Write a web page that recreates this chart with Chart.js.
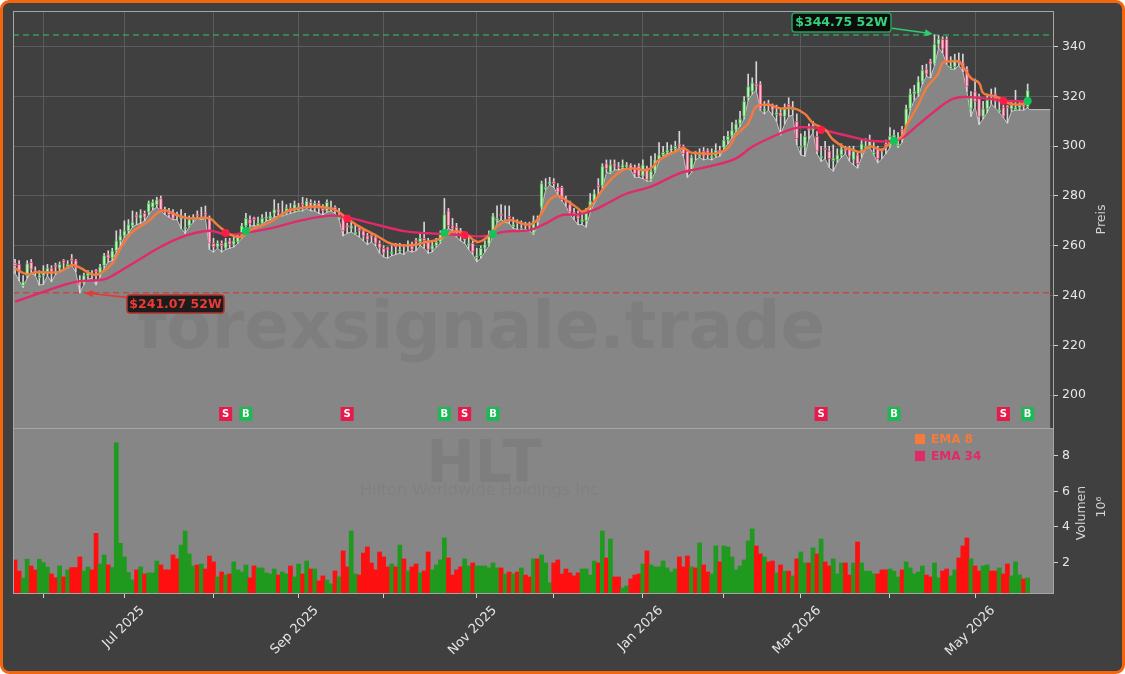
<!DOCTYPE html>
<html>
<head>
<meta charset="utf-8">
<script src="https://cdn.jsdelivr.net/npm/chart.js@4.4.1/dist/chart.umd.min.js"></script>
<style>
  html, body { margin: 0; padding: 0; background: #ffffff; }
  #frame { position: absolute; left: 0; top: 0; width: 1125px; height: 674px; box-sizing: border-box;
           border: 3px solid #f2660f; border-radius: 9px; background: #404040; }
  #priceWrap { position: absolute; left: 0; top: 0; width: 1125px; height: 428px; }
  #volWrap { position: absolute; left: 0; top: 420px; width: 1125px; height: 254px; }
</style>
</head>
<body>
<div id="frame"></div>
<div id="priceWrap"><canvas id="priceChart"></canvas></div>
<div id="volWrap"><canvas id="volChart"></canvas></div>
<script>
// month ticks (trading-day index of first session of each month)
const monthTickIdx = [7, 27, 49, 70, 91, 114, 133, 155, 175, 194, 216, 237];
const monthTickLabel = ['', 'Jul 2025', '', 'Sep 2025', '', 'Nov 2025', '', 'Jan 2026', '', 'Mar 2026', '', 'May 2026'];

const priceTicks = [200, 220, 240, 260, 280, 300, 320, 340];
const volTicks = [2, 4, 6, 8];

// daily candles (HLT)
const open = [
253,252.5,244,248,253.3,250,247.2,248,249.5,251,
252.3,251,254.1,251.7,254.8,254,246,245,248,249,
250.3,248.5,252,256.5,255,258,262,264,266,268,
272.3,271,273,273.5,275.5,276.5,279,274.5,273.5,273.5,
272.8,270.7,266.7,268,270.5,272.8,270.7,273.3,271,261,
259.5,261,259,262,260.5,261.5,264,268,270.5,271.3,
268.2,269,271,271,273,274.5,272.2,273,275,274,
274.2,277.3,275.5,277.5,275,277,275,274,274.7,275.5,
270.7,271.5,268.3,267,264.7,266.8,266,264,264.3,263.5,
261,259,259.3,256.7,260.3,257.7,260.3,259.5,260,262.3,
261.5,263,262,258.5,260,261.5,265,274,268,267.5,
265,262.2,260.2,261,255.2,256,259,260.5,264.5,270.2,
272.8,269.7,271.8,267.7,269.8,266.2,268.8,268,265,270,
275.5,282.7,285,285.8,283.5,283.5,278.5,276.5,273.5,272,
269.7,270,274,278,284.3,284,293,289.5,293,292,
291.5,291.7,292.5,291,292,288,291,286.5,290,294.5,
296.5,297.5,298.5,299,301,300,298,290,297.8,295.7,
298,298.3,295.2,296,298.5,299.5,302.5,304,306.5,309,
312,319.5,322,325,325,314.2,317.3,316.5,312.7,313.5,
312,316.8,314.7,310,299.2,300,307.3,306.5,304,295.2,
299.3,298,294.2,294.5,296.5,299,299,294.5,296.5,298.5,
299.2,300,296.7,299,298.8,300.8,300,303.5,300.2,306.8,
308,315,321,321,326,331,334.2,333,341,343,
343,331.2,332,334.5,333.5,331,315,322,320,312,
315,320.8,321,313.7,315.5,316.3,315,314.7,315.5,316.5,
316];
const high = [
254.5,254,248,254,254.5,251.5,250,252,252.5,252,
253,253.5,254.5,254,256.5,254.5,248,249,250,250,
250.5,252.5,257,258,259,266,266.5,270,270.5,274,
273.5,274.5,274,278,278.5,279.5,280,275.5,275,274.5,
273.5,274.5,273,272,272.5,274,275.5,276,272,263,
262,262,263,263,263.5,265,269,273,272,271.5,
271.5,272.5,273.5,273.5,278.5,277,278,276.5,277,278,
277,279.5,279,278.5,278,278,276.5,278.5,278,276,
275,272,269,270,268.5,268,266.5,265,264.5,264,
262,260,259.5,260,261,261,260.5,262,261.5,263,
265,269.5,263,262,263,266,279,275,271,269,
267,265.5,264,262,259,260,262,266,273,276,
276.5,276,276,271.5,270.5,270,269.5,269.5,272,272,
286,287,287.5,287,285,284,280,278,275,274,
273,275,281,282.5,287,293,294.5,294.5,294.5,293.5,
294.5,293.5,293,292.5,293,294.5,292,296,297,301.5,
300,301.5,300.5,302,306,300.5,298.5,296.5,298,299,
299.5,299,299,301,300,304,306,309.5,310.5,314,
320,329,327.5,334,326,318,318.5,317,316.5,315,
317,319.5,318,313,305,306,309,310,306,300,
302,300,300.5,299,301,300,300,300,297.5,302.5,
303,304.5,301.5,300,299,302.5,307.5,306.5,305.5,308,
316.5,323,324.5,328,332.5,333,335,344.75,344.5,344,
344,336,337,337.5,337,332,322,327,321,318,
321,323,323.5,319,316.5,316.5,318,322.5,318,318,
325];
const low = [
249,246,243.3,247,249,248,244.2,244.5,248,245.5,
248.5,250,250.5,251,252,249.5,241.07,244.5,246.5,247,
244.3,247.5,251,253.5,254,257.5,260,263.5,265,267.5,
268.5,269,270,272.5,274.5,275.5,274,272.5,271.5,270.5,
270.5,267,265,267.5,269.5,271,270.5,271,258.5,257.5,
259,257.5,258.5,259,259.5,261,263,264.5,268,268,
268,268.5,270,270.5,271.5,272,272,272.5,273,273.5,
274,274,275,274,274,273,272.5,273.5,274,273,
270.5,264,265,265.5,264.5,263.5,262,260.5,261.5,260,
257,255.5,255,256,256.5,257,256.5,258,257.5,258,
260,259,257,257.5,259.5,261,265,267,266,263.5,
262,261,258.5,256.5,253.6,255,257.5,260,264,269.5,
270.5,269.5,269,267,266.5,266,266.5,266,264.5,268,
275,282.5,284.5,283.5,280.5,278,276,272.5,270.5,268.5,
268.5,267.5,273.5,277,280,283,289.5,289,290.5,290.5,
291,291,290.5,287.5,287.5,287,286,286,289.5,294,
296,297,297.5,298,299.5,296,287.5,289.5,294.5,295.5,
294.5,295,294.5,295.5,296,299,301,303.5,306,308,
311,318.5,321,322.5,314.5,313,314.5,312.5,310,304.5,
309,312,312.5,300.6,296.5,296,303,305.5,297,293.9,
295,291.5,290,293.5,295.5,297,294,292.5,291.2,295.5,
299,299.5,296.5,293.3,295,297,299.5,303,299.5,301.5,
307.5,314.5,318.5,320,325,328,327.5,332.5,339.5,337.5,
333,331,331,332.5,330,322,312,316,308.7,311,
313.5,317,315.5,313.5,311.5,309.3,314,314.5,314.5,314.5,
315.5];
const close = [
252,249.5,245.5,252.8,250.5,249.2,248,249.5,251,249.5,
251.5,252.5,253.3,252.5,254,251,244.5,248,249,248.5,
249.5,251.5,256,255,258,262,264,266,268.5,269.5,
271.5,272.5,271.5,277,277.5,278.5,274.5,273.5,272.5,271,
272,271.5,267.5,270.5,271.5,272,271.5,272.5,261,259.5,
261,260,261.5,260.5,262,263.5,268,271,269,270.5,
269,271,271.5,272,274.5,273.5,273,275,274,276.5,
275,276.5,278,275,277,275,274,277.5,275.5,274,
271.5,266,267.5,268,265.5,266,264,262.5,263.5,261,
259,257,258.5,257.5,259.5,258.5,259.5,260,258.5,261.5,
263,262,258.5,260,261.5,264.5,272.5,268,267,265,
264,263,261,257.5,256,259,260.5,264,272,271,
272,270.5,271,268.5,269,267,268,267.5,270,269.5,
285,283.5,285.5,285,281.5,278.5,277.5,273.5,272,271,
270.5,274,278,281,283.5,292,291,292.5,292,291.5,
292.5,292.5,291,289,288,292.5,286.5,290,294.5,296.5,
297.5,298.5,299,300,300,297,289.5,295.5,297,296.5,
296,297.5,296,298.5,297.5,302.5,304,306.5,309,311,
318,324,325.5,324,315,315,316.5,314.5,313.5,312,
315,316,315.5,303,300,304,306.5,308,298,296,
298.5,295,295,296.5,299,298,296,298,293,301,
300,302,297.5,295,298,300,304,304.5,301,306,
315,321,322,326,330.5,329,333,341,343,339,
334,332,334.5,333.5,331,324,320,318,312,315,
318.5,320,318,314.5,312,315.5,316.5,315.5,316.5,316,
322.5];
// volume in millions
const volume = [
2.13,1.5,1.1,2.17,1.79,1.56,2.17,1.98,1.72,1.34,
1.13,1.79,1.17,1.57,1.7,1.7,2.3,1.5,1.73,1.57,
3.63,1.9,2.41,1.85,1.7,8.74,3.07,2.3,1.42,1.0,
1.57,1.74,1.34,1.4,1.4,2.07,1.85,1.57,1.57,2.41,
2.19,2.97,3.76,2.47,1.79,1.85,1.9,1.62,2.35,2.02,
1.17,1.45,1.28,1.34,2.02,1.57,1.45,1.85,1.12,1.79,
1.68,1.68,1.4,1.34,1.62,1.28,1.45,1.34,1.79,1.17,
1.9,1.34,2.07,1.62,1.62,0.95,1.23,1.0,0.78,1.51,
1.17,2.64,1.74,3.76,1.34,1.28,2.52,2.86,1.96,1.57,
2.58,2.3,1.74,1.9,1.74,2.97,2.19,1.51,1.74,1.9,
1.4,1.51,2.58,1.57,1.85,2.13,3.37,2.24,1.28,1.57,
1.74,2.19,1.79,1.96,1.79,1.79,1.79,1.68,1.96,1.68,
1.68,1.34,1.45,1.34,1.45,1.68,1.28,1.17,2.19,2.19,
2.41,1.96,0.84,1.96,2.13,1.34,1.62,1.4,1.23,1.4,
1.62,1.62,1.28,2.07,1.96,3.76,2.24,3.31,1.17,1.17,
0.55,0.66,1.06,1.28,1.34,1.9,2.64,1.85,1.74,1.74,
2.07,1.68,1.45,1.62,2.3,1.74,2.35,1.74,1.68,3.09,
1.85,1.45,1.34,2.92,2.02,2.92,2.86,2.3,1.57,1.79,
2.13,3.2,3.88,2.92,2.47,2.3,2.02,2.07,1.4,1.85,
1.5,1.5,1.23,2.19,2.58,1.96,1.96,2.81,2.47,3.31,
2.02,1.79,2.19,1.34,1.96,1.96,1.28,1.96,3.14,1.96,
1.5,1.5,1.34,1.34,1.57,1.57,1.62,1.5,1.17,1.57,
2.02,1.68,1.34,1.45,1.79,1.28,1.17,1.96,1.12,1.51,
1.62,1.23,1.57,2.24,2.92,3.37,2.19,1.79,1.51,1.79,
1.85,1.51,1.51,1.68,1.34,1.9,1.23,2.02,1.28,1.06,
1.12];

// moving averages: [bar index, value]
const ema8 = [
[0,250.9],[3,248.5],[5,249.3],[11,249.5],[14,252.2],[16,251.2],[19,248.5],[21,248.9],[24,252.9],[26,258.9],
[29,265.6],[33,269.9],[35,273],[37,274.3],[40,272.3],[43,271],[48,271],[50,268.3],[53,264.6],[56,263.6],
[58,266.3],[63,269.5],[67,273.7],[71,275.3],[75,275.7],[79,274.4],[82,271],[85,267.7],[89,264.3],[93,260.7],
[98,260.3],[102,261.6],[104,262.3],[106,263.6],[108,265.7],[111,265],[114,261.6],[116,262.7],[119,267.7],[122,270.3],
[126,268.6],[128,269],[130,273],[132,278.4],[134,280.1],[136,278.4],[139,275],[140,273.7],[142,275.7],[145,282.4],
[147,286.4],[150,290.4],[153,291.1],[155,290.4],[157,291.1],[159,294.5],[163,297.8],[165,299.2],[167,297.4],[170,297.1],
[173,297.1],[176,299.2],[178,304.5],[181,309.2],[183,315.9],[186,316.6],[189,315.2],[192,315.4],[195,313],[197,309.3],
[200,306.7],[202,302.6],[205,299.3],[206,299],[209,297.7],[211,300],[214,298.6],[216,301.3],[219,304],[220,308],
[223,316.7],[225,323.4],[228,329.4],[229,333.5],[231,334.1],[233,334.1],[234,332.1],[236,327.4],[238,325.4],[239,321.4],
[241,320.3],[243,319.4],[245,317.4],[247,316.7],[249,317],[250,317.6]
];
const ema34 = [
[0,237.5],[7,241.5],[15,245.5],[22,246.5],[25,248.9],[30,253.8],[36,259.6],[42,264],[48,266],[52,264.6],
[56,265],[63,267],[71,270.3],[78,272.1],[82,271.4],[88,269],[96,265.9],[102,265],[107,264.6],[112,264],
[116,263.9],[121,265.7],[127,266.3],[131,269],[135,272.3],[139,272.6],[143,274.4],[147,277.7],[151,281],[157,283.8],
[164,289.1],[168,290.7],[173,292.5],[178,295.1],[182,299.8],[187,303.8],[191,306.5],[194,307.6],[198,307.3],[201,306],
[206,304],[211,302.2],[216,302],[219,303.3],[223,308.7],[227,314],[231,318.7],[234,319.8],[238,319.4],[241,319],
[244,318.3],[250,318]
];

// EMA crossover signals
const sellIdx = [52, 82, 111, 199, 244];
const sellLevel = [265.1, 271.0, 264.3, 306.5, 318.2];
const buyIdx = [57, 106, 118, 217, 250];
const buyLevel = [265.9, 265.1, 264.7, 302.1, 318.2];

// 52-week extremes
const high52 = 344.75, high52Idx = 227;
const low52 = 241.07, low52Idx = 16;

// shaded band after the last session
const tailLevel = 314.7, tailEnd = 255.6;

const xMin = -0.5, xMax = 256.5;
const priceMin = 186.75, priceMax = 354.35;
const volMin = 0.21, volMax = 9.57;

const FONT = '"DejaVu Sans", "Noto Sans", sans-serif';
Chart.defaults.font.family = FONT;

const idx = close.map((_, i) => i);
const isUp = i => close[i] >= open[i];

// shaded band under the lows, from the left edge to the end band
const areaData = [{ x: xMin, y: low[0] }].concat(idx.map(i => ({ x: i, y: low[i] })));
areaData.push({ x: idx.length - 0.5, y: tailLevel }, { x: tailEnd, y: tailLevel });

function arrow(ctx, x0, y0, x1, y1, color) {
  const ang = Math.atan2(y1 - y0, x1 - x0), hl = 8, hw = 3.5;
  const c = Math.cos(ang), s = Math.sin(ang);
  ctx.strokeStyle = color; ctx.fillStyle = color; ctx.lineWidth = 1.6; ctx.setLineDash([]);
  ctx.beginPath(); ctx.moveTo(x0, y0); ctx.lineTo(x1 - hl * c, y1 - hl * s); ctx.stroke();
  ctx.beginPath(); ctx.moveTo(x1, y1);
  ctx.lineTo(x1 - hl * c + hw * s, y1 - hl * s - hw * c);
  ctx.lineTo(x1 - hl * c - hw * s, y1 - hl * s + hw * c);
  ctx.closePath(); ctx.fill();
}

function labelBox(ctx, text, cx, cy, w, h, fill, stroke, color) {
  ctx.beginPath(); ctx.roundRect(cx - w / 2, cy - h / 2, w, h, 3);
  ctx.fillStyle = fill; ctx.fill();
  ctx.lineWidth = 1.5; ctx.strokeStyle = stroke; ctx.stroke();
  ctx.fillStyle = color; ctx.font = 'bold 12.5px ' + FONT;
  ctx.textAlign = 'center'; ctx.textBaseline = 'middle';
  ctx.fillText(text, cx, cy + 0.5);
}

function vText(ctx, text, x, y, font, color) {
  ctx.save(); ctx.translate(x, y); ctx.rotate(-Math.PI / 2);
  ctx.font = font; ctx.fillStyle = color; ctx.textAlign = 'center'; ctx.textBaseline = 'middle';
  ctx.fillText(text, 0, 0); ctx.restore();
}

const pricePanel = {
  id: 'pricePanel',
  beforeDraw(chart) {
    const { ctx, chartArea: a } = chart;
    ctx.save(); ctx.fillStyle = '#404040'; ctx.fillRect(a.left, a.top, a.width, a.height); ctx.restore();
  },
  afterDatasetDraw(chart, args) {
    if (args.index !== 0) return;
    const { ctx, chartArea: a, scales: { y } } = chart;
    ctx.save();
    ctx.beginPath(); ctx.rect(a.left, a.top, a.width, a.height); ctx.clip();
    ctx.font = 'bold 66px ' + FONT; ctx.fillStyle = 'rgba(0,0,0,0.055)';
    ctx.textAlign = 'center'; ctx.textBaseline = 'alphabetic';
    ctx.fillText('forexsignale.trade', a.left + a.width * 0.45, a.top + a.height * 0.808);
    ctx.lineWidth = 1.5; ctx.setLineDash([6, 4]);
    const hy = y.getPixelForValue(high52), ly = y.getPixelForValue(low52);
    ctx.strokeStyle = 'rgba(52,168,96,0.85)';
    ctx.beginPath(); ctx.moveTo(a.left, hy); ctx.lineTo(a.right, hy); ctx.stroke();
    ctx.strokeStyle = 'rgba(205,60,58,0.8)';
    ctx.beginPath(); ctx.moveTo(a.left, ly); ctx.lineTo(a.right, ly); ctx.stroke();
    ctx.restore();
  },
  afterDraw(chart) {
    const { ctx, chartArea: a, scales: { x, y } } = chart;
    ctx.save();
    // signal markers
    const my = a.bottom - 14;
    const mark = (i, t, col) => {
      const px = x.getPixelForValue(i);
      ctx.fillStyle = col; ctx.fillRect(px - 6.5, my - 7, 13, 14);
      ctx.fillStyle = '#ffffff'; ctx.font = 'bold 10px ' + FONT;
      ctx.textAlign = 'center'; ctx.textBaseline = 'middle';
      ctx.fillText(t, px, my + 0.5);
    };
    sellIdx.forEach(i => mark(i, 'S', '#e8194b'));
    buyIdx.forEach(i => mark(i, 'B', '#1db954'));
    // 52W annotations
    let px = x.getPixelForValue(high52Idx), py = y.getPixelForValue(high52);
    arrow(ctx, px - 42.5, py - 6.6, px - 1.6, py - 1, '#2fcc6e');
    labelBox(ctx, '$' + high52.toFixed(2) + ' 52W', px - 93, py - 12.4, 99, 19, '#0c0c0c', '#2a9d5a', '#35d27c');
    px = x.getPixelForValue(low52Idx); py = y.getPixelForValue(low52);
    arrow(ctx, px + 47, py + 4.5, px + 5, py, '#e53935');
    labelBox(ctx, '$' + low52.toFixed(2) + ' 52W', px + 95.7, py + 11.2, 97, 18, '#1c1c1c', '#b3302c', '#ec3a35');
    // frame
    ctx.strokeStyle = '#a6a6a6'; ctx.lineWidth = 1;
    ctx.strokeRect(a.left + 0.5, a.top + 0.5, a.width - 1, a.height);
    // axis title
    vText(ctx, 'Preis', a.right + 48, (a.top + a.bottom) / 2, '12.5px ' + FONT, '#d4d4d4');
    ctx.restore();
  }
};

const volPanel = {
  id: 'volPanel',
  beforeDraw(chart) {
    const { ctx, chartArea: a } = chart;
    ctx.save(); ctx.fillStyle = '#868686'; ctx.fillRect(a.left, a.top, a.width, a.height); ctx.restore();
  },
  beforeDatasetsDraw(chart) {
    const { ctx, chartArea: a } = chart;
    ctx.save();
    ctx.textAlign = 'center'; ctx.textBaseline = 'alphabetic';
    ctx.fillStyle = 'rgba(0,0,0,0.055)';
    ctx.font = 'bold 58px ' + FONT;
    ctx.fillText('HLT', a.left + a.width * 0.4525, a.top + 54);
    ctx.font = '16px ' + FONT; ctx.fillStyle = 'rgba(0,0,0,0.045)';
    ctx.fillText('Hilton Worldwide Holdings Inc', a.left + a.width * 0.448, a.top + 67);
    ctx.restore();
  },
  afterDraw(chart) {
    const { ctx, chartArea: a } = chart;
    ctx.save();
    ctx.strokeStyle = '#a6a6a6'; ctx.lineWidth = 1;
    ctx.strokeRect(a.left + 0.5, a.top + 0.5, a.width - 1, a.height - 1);
    // legend
    const lx = a.right - 139;
    const items = [['EMA 8', '#f47b3c'], ['EMA 34', '#e2296a']];
    items.forEach(([t, c], k) => {
      const ty = a.top + 6 + k * 17;
      ctx.fillStyle = c; ctx.fillRect(lx, ty, 10, 10);
      ctx.font = 'bold 12px ' + FONT; ctx.textAlign = 'left'; ctx.textBaseline = 'middle';
      ctx.fillText(t, lx + 16, ty + 5.5);
    });
    vText(ctx, 'Volumen', a.right + 28, (a.top + a.bottom) / 2 + 2, '12.5px ' + FONT, '#d4d4d4');
    vText(ctx, '10\u2076', a.right + 48, (a.top + a.bottom) / 2 - 4, '12.5px ' + FONT, '#d4d4d4');
    ctx.restore();
  }
};

const monthTicks = s => { s.ticks = monthTickIdx.map(v => ({ value: v })); };

const priceChart = new Chart(document.getElementById('priceChart'), {
  type: 'bar',
  data: {
    datasets: [
      { type: 'line', data: areaData, fill: 'start', backgroundColor: '#868686', borderColor: '#c4c4c4',
        borderWidth: 1, pointRadius: 0, tension: 0, order: 7 },
      { type: 'bar', data: idx.map(i => ({ x: i, y: [low[i], high[i]] })), backgroundColor: '#d6d6d6',
        barThickness: 1, grouped: false, order: 6 },
      { type: 'bar', data: idx.map(i => ({ x: i, y: [open[i], close[i]] })),
        backgroundColor: idx.map(i => isUp(i) ? '#c4f1c4' : '#ffbfd2'),
        borderColor: idx.map(i => isUp(i) ? '#4fbf56' : '#e2527c'),
        borderWidth: 1, borderSkipped: false, barThickness: 3, minBarLength: 1, grouped: false, order: 5 },
      { type: 'line', data: ema34.map(([x, y]) => ({ x, y })), borderColor: '#e2296a', borderWidth: 2.4,
        pointRadius: 0, tension: 0.4, fill: false, order: 4 },
      { type: 'line', data: ema8.map(([x, y]) => ({ x, y })), borderColor: '#f47b3c', borderWidth: 2.4,
        pointRadius: 0, tension: 0.4, fill: false, order: 3 },
      { type: 'line', data: sellIdx.map((x, k) => ({ x, y: sellLevel[k] })), showLine: false,
        pointRadius: 4, pointBackgroundColor: '#ff1a48', pointBorderWidth: 0, order: 2 },
      { type: 'line', data: buyIdx.map((x, k) => ({ x, y: buyLevel[k] })), showLine: false,
        pointRadius: 4, pointBackgroundColor: '#14c45a', pointBorderWidth: 0, order: 1 }
    ]
  },
  options: {
    responsive: true, maintainAspectRatio: false, animation: false,
    layout: { autoPadding: false, padding: { left: 13, top: 11, right: 0, bottom: 0 } },
    plugins: { legend: { display: false }, tooltip: { enabled: false } },
    scales: {
      x: {
        type: 'linear', min: xMin, max: xMax, offset: false,
        afterBuildTicks: monthTicks,
        ticks: { display: false },
        grid: { color: '#5c5c5c', drawTicks: false, offset: false },
        border: { display: false },
        afterFit: s => { s.height = 0; s.paddingLeft = 0; s.paddingRight = 0; }
      },
      y: {
        position: 'right', min: priceMin, max: priceMax,
        afterBuildTicks: s => { s.ticks = priceTicks.map(v => ({ value: v })); },
        ticks: { color: '#e6e6e6', font: { size: 12.5 }, padding: 4 },
        grid: { color: '#5c5c5c', tickColor: '#d0d0d0', tickLength: 4 },
        border: { display: false },
        afterFit: s => { s.width = 71; s.paddingTop = 0; s.paddingBottom = 0; }
      }
    }
  },
  plugins: [pricePanel]
});

const volChart = new Chart(document.getElementById('volChart'), {
  type: 'bar',
  data: {
    datasets: [{
      data: idx.map(i => ({ x: i, y: volume[i] })),
      backgroundColor: idx.map(i => isUp(i) ? '#1f9a1f' : '#ff1010'),
      barPercentage: 1, categoryPercentage: 1, borderWidth: 0
    }]
  },
  options: {
    responsive: true, maintainAspectRatio: false, animation: false,
    layout: { autoPadding: false, padding: { left: 13, top: 8, right: 0, bottom: 0 } },
    plugins: { legend: { display: false }, tooltip: { enabled: false } },
    scales: {
      x: {
        type: 'linear', min: xMin, max: xMax, offset: false,
        afterBuildTicks: monthTicks,
        ticks: {
          autoSkip: false, maxRotation: 45, minRotation: 45, color: '#e6e6e6',
          font: { size: 13 }, padding: 5, labelOffset: 18,
          callback: v => { const k = monthTickIdx.indexOf(v); return k >= 0 ? monthTickLabel[k] : ''; }
        },
        grid: { drawOnChartArea: false, tickColor: '#d0d0d0', tickLength: 4, offset: false },
        border: { display: false },
        afterFit: s => { s.height = 80; s.paddingLeft = 0; s.paddingRight = 0; }
      },
      y: {
        position: 'right', min: volMin, max: volMax,
        afterBuildTicks: s => { s.ticks = volTicks.map(v => ({ value: v })); },
        ticks: { color: '#e6e6e6', font: { size: 12.5 }, padding: 4 },
        grid: { drawOnChartArea: false, tickColor: '#d0d0d0', tickLength: 4 },
        border: { display: false },
        afterFit: s => { s.width = 71; s.paddingTop = 0; s.paddingBottom = 0; }
      }
    }
  },
  plugins: [volPanel]
});
</script>
</body>
</html>
